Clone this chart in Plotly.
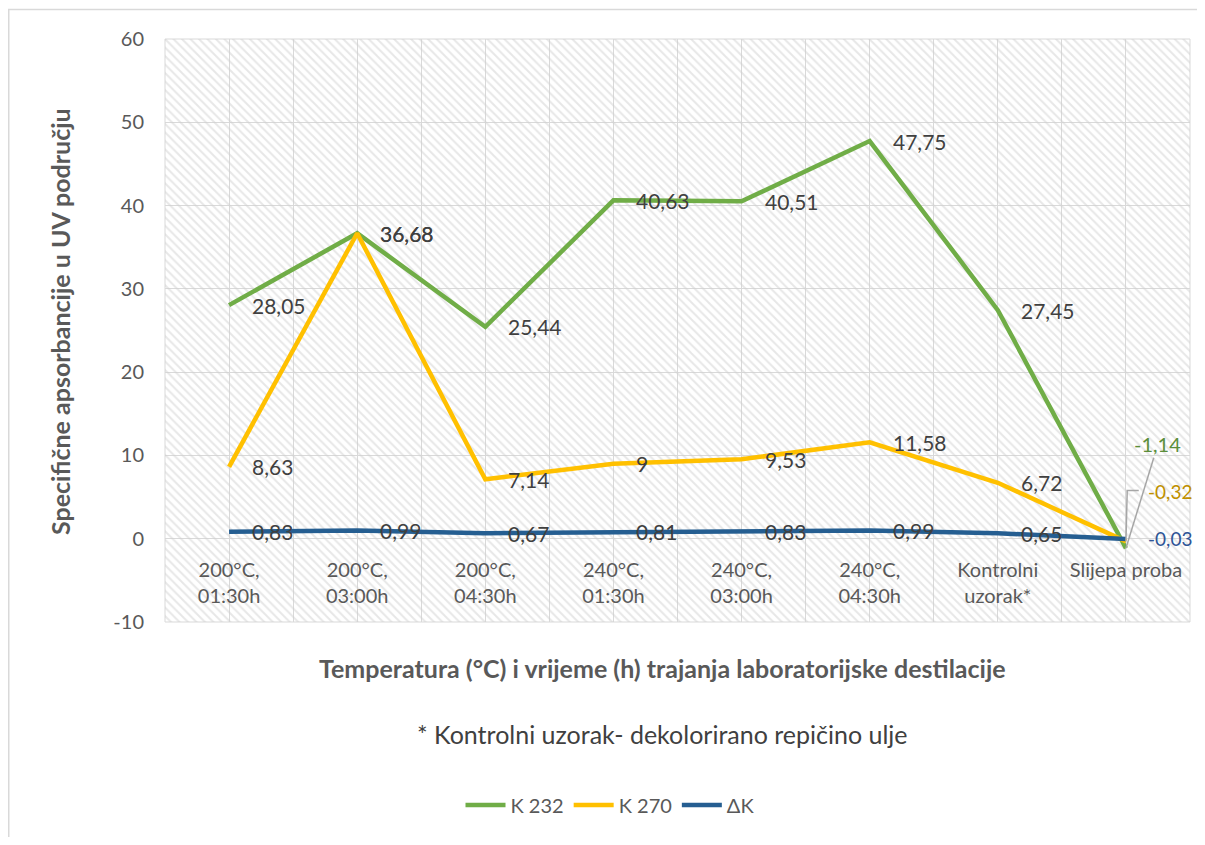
import plotly.graph_objects as go

categories = ["200°C,<br>01:30h", "200°C,<br>03:00h", "200°C,<br>04:30h", "240°C,<br>01:30h",
              "240°C,<br>03:00h", "240°C,<br>04:30h", "Kontrolni<br>uzorak*", "Slijepa proba"]
k232 = [28.05, 36.68, 25.44, 40.63, 40.51, 47.75, 27.45, -1.14]
k270 = [8.63, 36.68, 7.14, 9, 9.53, 11.58, 6.72, -0.32]
dk = [0.83, 0.99, 0.67, 0.81, 0.83, 0.99, 0.65, -0.03]
y_ticks = [-10, 0, 10, 20, 30, 40, 50, 60]

FONT = "Lato"
GREEN, YELLOW, BLUE = "#70AD47", "#FFC000", "#255E91"
LBL = "#404040"
GRID = "#d9d9d9"

# page has an 8px body margin; figure placed at (8, 8)
ML, MT = 157, 31
PW, PH = 1025, 583
FW, FH = 1197, 829

xs = list(range(len(categories)))


def fmt(v):
    s = ("%g" % v) if float(v).is_integer() else ("%.2f" % v)
    return s.replace(".", ",")


def px(xp):  # page x -> paper x
    return (xp - 8 - ML) / PW


def py(yp):  # page y -> paper y
    return (MT + PH - (yp - 8)) / PH


fig = go.Figure()

# hatched plot-area background
fig.add_trace(go.Scatter(
    x=[-0.5, 7.5, 7.5, -0.5, -0.5], y=[-10, -10, 60, 60, -10],
    mode="lines", line=dict(width=0), fill="toself",
    fillcolor="rgba(0,0,0,0)",
    fillpattern=dict(shape="\\", fgcolor="#d0d0d0", size=6, solidity=0.33),
    hoverinfo="skip", showlegend=False))

series = [("K 232", k232, GREEN, "#5B8E3A"), ("K 270", k270, YELLOW, "#BF9000"), ("ΔK", dk, BLUE, "#2F5597")]
for name, vals, col, _ in series:
    fig.add_trace(go.Scatter(x=xs, y=vals, mode="lines", name=name,
                             line=dict(color=col, width=4.5)))

annotations = []
for name, vals, col, dcol in series:
    for i, v in enumerate(vals):
        if i == len(vals) - 1:
            continue
        annotations.append(dict(x=xs[i], y=v, xref="x", yref="y", text=fmt(v),
                                showarrow=False, xanchor="left", yanchor="middle",
                                xshift=21, font=dict(family=FONT, size=21, color=LBL)))

# last category labels with leader lines
last = len(categories) - 1
annotations.append(dict(x=xs[last], y=k232[last], xref="x", yref="y", text=fmt(k232[last]),
                        showarrow=True, arrowhead=0, arrowcolor="#a6a6a6", arrowwidth=1.5,
                        ax=32, ay=-104, xanchor="center", yanchor="middle",
                        font=dict(family=FONT, size=20, color="#5B8E3A")))
annotations.append(dict(x=xs[last], y=k270[last], xref="x", yref="y", text=fmt(k270[last]),
                        showarrow=False, xanchor="left", yanchor="middle",
                        xshift=20, yshift=50, font=dict(family=FONT, size=19, color="#BF9000")))
annotations.append(dict(x=xs[last], y=dk[last], xref="x", yref="y", text=fmt(dk[last]),
                        showarrow=False, xanchor="left", yanchor="middle",
                        xshift=20, font=dict(family=FONT, size=19, color="#2F5597")))

# titles
annotations.append(dict(x=px(60), y=py(322), xref="paper", yref="paper",
                        text="<b>Specifične apsorbancije u UV području</b>", textangle=-90,
                        showarrow=False, xanchor="center", yanchor="middle",
                        font=dict(family=FONT, size=25, color="#595959")))
annotations.append(dict(x=px(662), y=py(668), xref="paper", yref="paper",
                        text="<b>Temperatura (°C) i vrijeme (h) trajanja laboratorijske destilacije</b>",
                        showarrow=False, xanchor="center", yanchor="middle",
                        font=dict(family=FONT, size=25, color="#595959")))
annotations.append(dict(x=px(662), y=py(734), xref="paper", yref="paper",
                        text="* Kontrolni uzorak- dekolorirano repičino ulje",
                        showarrow=False, xanchor="center", yanchor="middle",
                        font=dict(family=FONT, size=25, color="#404040")))

shapes = [
    # elbow leader for K 270 last label
    dict(type="path", xref="x", yref="y",
         path=f"M {xs[last]},{k270[last]} L {xs[last] + 0.01},5.8 L {xs[last] + 0.1},5.8",
         line=dict(color="#a6a6a6", width=1.5)),
    # plot-area border
    dict(type="rect", xref="x domain", yref="y domain", x0=0, x1=1, y0=0, y1=1,
         line=dict(color=GRID, width=1), layer="below"),
    # chart-area border
    dict(type="rect", xref="paper", yref="paper", x0=(0.75 - ML) / PW, x1=1.2,
         y0=-0.6, y1=(MT + PH - 1.5) / PH, line=dict(color=GRID, width=1.5)),
]

fig.update_layout(
    width=FW, height=FH,
    margin=dict(l=ML, r=FW - ML - PW, t=MT, b=FH - MT - PH),
    paper_bgcolor="white", plot_bgcolor="white",
    font=dict(family=FONT, size=20, color="#595959"),
    showlegend=True,
    legend=dict(orientation="h", x=px(610), xanchor="center",
                y=py(805), yanchor="middle",
                font=dict(family=FONT, size=20, color="#595959"),
                itemwidth=40, bgcolor="rgba(0,0,0,0)"),
    annotations=annotations, shapes=shapes,
)

fig.update_xaxes(
    range=[-0.5, 7.5], tickvals=xs, ticktext=categories,
    anchor="free", position=10 / 70,
    showgrid=True, gridcolor=GRID, gridwidth=1,
    minor=dict(tickvals=[i + 0.5 for i in range(-1, 8)], showgrid=True, gridcolor=GRID, gridwidth=1),
    ticks="", showline=False, zeroline=False,
    tickfont=dict(family=FONT, size=20, color="#595959"),
    ticklabelstandoff=17,
)
fig.update_yaxes(
    range=[-10, 60], tickvals=y_ticks, ticktext=[str(t) for t in y_ticks],
    showgrid=True, gridcolor=GRID, gridwidth=1,
    zeroline=True, zerolinecolor=GRID, zerolinewidth=1,
    ticks="", showline=False,
    tickfont=dict(family=FONT, size=20, color="#595959"),
    ticklabelstandoff=20,
)

fig.write_html("out.html")
